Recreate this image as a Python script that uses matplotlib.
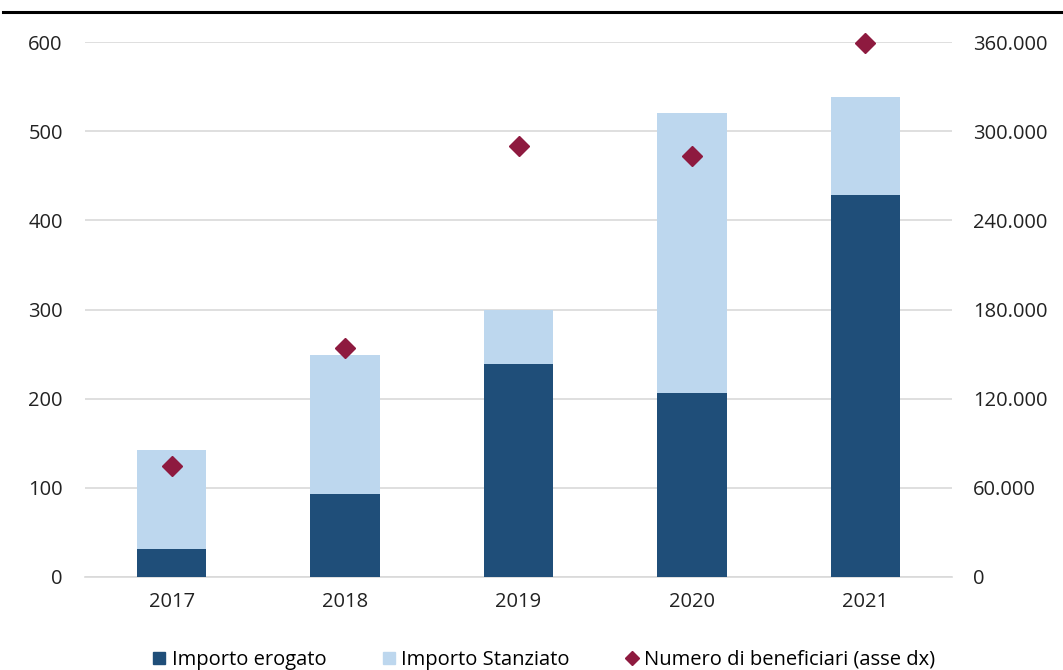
import matplotlib
matplotlib.use("Agg")
import matplotlib.pyplot as plt
from matplotlib.lines import Line2D
from matplotlib.ticker import FuncFormatter

years = ["2017", "2018", "2019", "2020", "2021"]
importo_stanziato = [142, 249, 300, 520, 538]
importo_erogato = [31, 93, 239, 206, 428]
beneficiari = [75000, 154000, 290000, 283000, 359000]

left_ticks = [0, 100, 200, 300, 400, 500, 600]
right_ticks = [0, 60000, 120000, 180000, 240000, 300000, 360000]

dark = "#1F4E79"
light = "#BDD7EE"
marker_col = "#8E1A3F"
grid_col = "#D9D9D9"

plt.rcParams["font.family"] = ["Open Sans", "DejaVu Sans"]

fig = plt.figure(figsize=(10.63, 6.70), dpi=100)
ax = fig.add_axes([85 / 1063, 1 - 577 / 670, (952 - 85) / 1063, (577 - 42) / 670])

x = list(range(len(years)))
ax.bar(x, importo_stanziato, width=0.4, color=light, zorder=2)
ax.bar(x, importo_erogato, width=0.4, color=dark, zorder=3)

ax.set_xlim(-0.5, len(years) - 0.5)
ax.set_ylim(0, 600)
ax.set_yticks(left_ticks)
ax.set_xticks(x)
ax.set_xticklabels(years)
ax.yaxis.grid(True, color=grid_col, linewidth=1.2, zorder=0)
ax.set_axisbelow(True)
for s in ["top", "right", "left"]:
    ax.spines[s].set_visible(False)
ax.spines["bottom"].set_color(grid_col)
ax.spines["bottom"].set_linewidth(1.2)
ax.tick_params(axis="both", length=0, labelsize=14.5, colors="#222222")
ax.tick_params(axis="y", pad=16)
ax.tick_params(axis="x", pad=11)
for lbl in ax.get_yticklabels():
    lbl.set_horizontalalignment("right")

ax2 = ax.twinx()
ax2.set_ylim(0, 360000)
ax2.set_yticks(right_ticks)
ax2.yaxis.set_major_formatter(FuncFormatter(lambda v, p: f"{int(v):,}".replace(",", ".")))
for s in ["top", "right", "left", "bottom"]:
    ax2.spines[s].set_visible(False)
ax2.tick_params(axis="y", length=0, labelsize=14.5, colors="#222222", pad=15)
ax2.plot(x, beneficiari, linestyle="none", marker="D", markersize=10,
         color=marker_col, zorder=5, clip_on=False)

# rule across the top of the figure
fig.add_artist(Line2D([3 / 1063, 1.0], [1 - 12 / 670, 1 - 12 / 670],
                      color="black", linewidth=2.2))

handles = [
    Line2D([], [], linestyle="none", marker="s", markersize=9, color=dark),
    Line2D([], [], linestyle="none", marker="s", markersize=9, color=light),
    Line2D([], [], linestyle="none", marker="D", markersize=7, color=marker_col),
]
labels = ["Importo erogato", "Importo Stanziato", "Numero di beneficiari (asse dx)"]
fig.legend(handles, labels, loc="center", bbox_to_anchor=(0.51, 1 - 660 / 670),
           ncol=3, frameon=False, fontsize=14.5, handletextpad=0.1,
           columnspacing=2.6, handlelength=1.0)

fig.savefig("out.png", dpi=100)
